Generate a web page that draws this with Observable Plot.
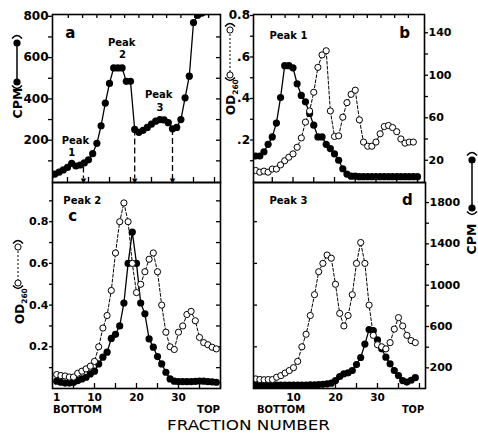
<!DOCTYPE html>
<html><head><meta charset="utf-8">
<script src="https://cdn.jsdelivr.net/npm/d3@7"></script>
<script src="https://cdn.jsdelivr.net/npm/@observablehq/plot@0.6"></script>
<style>
body{margin:0;background:#fff;}
#chart{position:relative;width:478px;height:434px;overflow:hidden;background:#fff;}
#chart svg{position:absolute;left:0;top:0;background:transparent;}
</style></head><body><div id="chart"></div>
<script>
const W = 478, H = 434;

// ---------- data ----------
const fracA = [1,2,3,4,5,6,7,8,9,10,11,12,13,14,15,16,17,18,19,20,21,22,23,24,25,26,27,28,29,30,31,32,33,34,35,36,37,38,39,40];
const cpmA  = [28,36,45,56,68,88,75,80,90,105,135,185,270,380,475,550,550,550,485,485,252,238,248,262,278,292,300,298,285,255,262,300,405,510,770,805,815,830,840,850];

const fracB = [1,2,3,4,5,6,7,8,9,10,11,12,13,14,15,16,17,18,19,20,21,22,23,24,25,26,27,28,29,30,31,32,33,34,35,36,37,38,39,40];
const odB   = [0.053,0.045,0.05,0.045,0.06,0.06,0.08,0.10,0.117,0.133,0.165,0.21,0.286,0.34,0.43,0.55,0.61,0.63,0.34,0.217,0.22,0.31,0.38,0.42,0.44,0.297,0.19,0.17,0.17,0.19,0.23,0.265,0.27,0.26,0.24,0.205,0.185,0.19,0.19];
const cpmB  = [24,24,28,35,42,55,79,109,109,107,92,81,75,64,53,42,42,35,31,26,20,12,7,5,5,4.5,4.5,4.5,4.5,4.5,4.5,4.5,4.5,4.5,4.5,4.5,4.5,4.5,4.5,4.5];

const fracC = [1,2,3,4,5,6,7,8,9,10,11,12,13,14,15,16,17,18,19,20,21,22,23,24,25,26,27,28,29,30,31,32,33,34,35,36,37,38,39];
const odC   = [0.067,0.062,0.06,0.055,0.055,0.073,0.083,0.094,0.107,0.13,0.20,0.29,0.35,0.47,0.65,0.80,0.89,0.80,0.60,0.46,0.50,0.56,0.62,0.65,0.56,0.40,0.27,0.20,0.187,0.27,0.30,0.355,0.37,0.325,0.245,0.22,0.21,0.198,0.19];
const cpmC  = [0.035,0.03,0.026,0.026,0.029,0.038,0.046,0.054,0.07,0.083,0.118,0.15,0.174,0.24,0.26,0.30,0.41,0.60,0.75,0.60,0.41,0.358,0.238,0.198,0.153,0.118,0.078,0.046,0.035,0.033,0.033,0.033,0.033,0.034,0.036,0.035,0.033,0.032,0.03];

const fracD = [1,2,3,4,5,6,7,8,9,10,11,12,13,14,15,16,17,18,19,20,21,22,23,24,25,26,27,28,29,30,31,32,33,34,35,36,37,38,39];
const odD   = [0.046,0.043,0.042,0.043,0.043,0.054,0.062,0.074,0.086,0.10,0.13,0.20,0.26,0.35,0.45,0.56,0.60,0.64,0.625,0.50,0.36,0.30,0.35,0.45,0.60,0.70,0.60,0.40,0.255,0.21,0.20,0.19,0.22,0.285,0.34,0.30,0.255,0.23,0.22];
const cpmD  = [36,35,34,33,33,32,32,32,32,32,33,33,34,35,36,38,40,45,52,77,116,142,152,174,232,300,430,570,560,470,384,303,239,174,126,77,62,80,105];

// arrows marking peak boundaries (panel a)
const arrowFrac = [8.8, 21, 30];
const arrowTop  = [70, 250, 252];

// ticks and tick labels
const aLeftTicks = [100,200,300,400,500,600,700,800];
const aLeftLabels = [200,400,600,800];
const aRightTicks = [100,200,300,400,500,600,700];
const aTopTicks = [5.2,8.6,12,15.3,18.6,22,25.3,28.6,32,35.3,38.6];
const bTopTicks = [4.8,8.1,11.4,14.7,18,21.3,24.6,27.9,31.2,34.5,37.8];
const fracTicks = [5,10,15,20,25,30,35,40];
const bLeftTicks = [0.1,0.2,0.3,0.4,0.5,0.6,0.7,0.8];
const bLeftValues = [0.2,0.4,0.6,0.8];
const bLeftLabels = [".2",".4",".6","0.8"];
const bRightTicks = [20,40,60,80,100,120,140];
const bRightLabels = [20,60,100,140];
const cLeftTicks = [0.1,0.2,0.3,0.4,0.5,0.6,0.7,0.8,0.9];
const cLeftLabels = [0.2,0.4,0.6,0.8];
const dLeftTicks = [0.2,0.4,0.6,0.8];
const dRightTicks = [200,400,600,800,1000,1200,1400,1600,1800];
const dRightLabels = [200,600,1000,1400,1800];
const cBottomLabels = [1,10,20,30];
const dBottomLabels = [10,20,30];

// annotations (in data units of each panel)
const annA = [{f:5.7,v:717,t:"a",s:15},{f:17.9,v:673,t:"Peak",s:10},{f:18.1,v:613,t:"2",s:10},
              {f:26.7,v:418,t:"Peak",s:10},{f:27.0,v:358,t:"3",s:10},{f:6.9,v:198,t:"Peak",s:10},{f:6.0,v:140,t:"1",s:10}];
const annB = [{f:8.9,v:0.704,t:"Peak 1",s:10},{f:36.9,v:0.713,t:"b",s:15}];
const annC = [{f:7.1,v:0.902,t:"Peak 2",s:10},{f:4.8,v:0.825,t:"c",s:15}];
const annD = [{f:8.8,v:0.899,t:"Peak 3",s:10},{f:37.1,v:0.902,t:"d",s:15}];

// ---------- helpers ----------
const chart = document.getElementById("chart");
const zip = (xs, ys) => xs.slice(0, ys.length).map((f, i) => ({f, v: ys[i]}));
function addPlot(cfg) {
  const [l, t, r, b] = cfg.frame;
  const svg = Plot.plot({
    width: W, height: H,
    marginLeft: l, marginTop: t, marginRight: W - r, marginBottom: H - b,
    x: {domain: cfg.x, axis: null, label: null},
    y: {domain: cfg.y, axis: null, label: null},
    style: {background: "transparent", fontFamily: "DejaVu Sans, sans-serif", fontWeight: "bold", fontSize: "11px", color: "black", overflow: "visible"},
    marks: cfg.marks
  });
  svg.style.position = "absolute"; svg.style.left = "0px"; svg.style.top = "0px";
  svg.style.background = "transparent"; svg.style.maxWidth = "none";
  chart.appendChild(svg);
  return svg;
}
const filledMarks = (data) => [
  Plot.line(data, {x: "f", y: "v", stroke: "black", strokeWidth: 1.3, clip: true}),
  Plot.dot(data, {x: "f", y: "v", r: 3.6, fill: "black", clip: true})
];
const openLine = (data) => Plot.line(data, {x: "f", y: "v", stroke: "black", strokeWidth: 1, strokeDasharray: "3,2", clip: true});
const openDots = (data) => Plot.dot(data, {x: "f", y: "v", r: 3.1, fill: "white", stroke: "black", strokeWidth: 1, clip: true});
const annText = (ann) => [10, 15].map(s => Plot.text(ann.filter(d => d.s === s), {x: "f", y: "v", text: "t", fontSize: s, fontWeight: "bold", fill: "black"}));
const SW = 1.3;

// ---------- panel a ----------
{
  const fw = 168, fh = 168;
  const data = zip(fracA, cpmA);
  const arrows = arrowFrac.map((f, i) => ({f, top: arrowTop[i]}));
  addPlot({
    frame: [52, 14, 220, 182], x: [1.43, 41.43], y: [-4.8, 808.7],
    marks: [
      Plot.axisY(aLeftTicks, {anchor: "left", label: null, tickSize: 4, tickPadding: 0, strokeWidth: SW, fontSize: 12,
        tickFormat: d => aLeftLabels.includes(d) ? String(d) : ""}),
      Plot.tickY(aRightTicks, {y: d => d, insetLeft: fw - 4, strokeWidth: SW}),
      Plot.tickX(aTopTicks, {x: d => d, insetBottom: fh - 4, strokeWidth: SW}),
      Plot.tickX(fracTicks, {x: d => d, insetTop: fh - 5, strokeWidth: SW}),
      Plot.ruleX(arrows, {x: "f", y1: "top", y2: 14, stroke: "black", strokeWidth: 1.3, strokeDasharray: "6,3"}),
      Plot.text(arrows, {x: "f", y: 0, text: () => "\u25BC", fontSize: 7, lineAnchor: "bottom", dy: 1, fill: "black"}),
      ...filledMarks(data),
      ...annText(annA),
      Plot.frame({stroke: "black", strokeWidth: 1.6})
    ]
  });
}

// ---------- panel b : CPM (filled, right axis) ----------
{
  const data = zip(fracB, cpmB);
  addPlot({
    frame: [253, 14, 424, 182], x: [0.48, 41.69], y: [-0.94, 157.2],
    marks: [
      Plot.axisY(bRightTicks, {anchor: "right", label: null, tickSize: 3, tickPadding: 1, strokeWidth: SW, fontSize: 11,
        tickFormat: d => bRightLabels.includes(d) ? String(d) : ""}),
      ...filledMarks(data)
    ]
  });
}
// ---------- panel b : OD (open, left axis) ----------
let bOD;
{
  const fw = 171, fh = 168;
  const data = zip(fracB, odB);
  bOD = addPlot({
    frame: [253, 14, 424, 182], x: [0.48, 41.69], y: [-0.0048, 0.8048],
    marks: [
      Plot.axisY(bLeftTicks, {anchor: "left", label: null, tickSize: 3, strokeWidth: SW, tickFormat: () => ""}),
      Plot.tickX(bTopTicks, {x: d => d, insetBottom: fh - 4, strokeWidth: SW}),
      Plot.tickX(fracTicks, {x: d => d, insetTop: fh - 5, strokeWidth: SW}),
      openLine(data), openDots(data),
      ...annText(annB),
      Plot.frame({stroke: "black", strokeWidth: 1.6})
    ]
  });
}

// ---------- panel c ----------
{
  const fw = 168, fh = 206;
  const open = zip(fracC, odC), filled = zip(fracC, cpmC);
  addPlot({
    frame: [52, 182, 220, 388], x: [0, 40], y: [0, 0.988],
    marks: [
      Plot.axisY(cLeftTicks, {anchor: "left", label: null, tickSize: 3, tickPadding: 1, strokeWidth: SW, fontSize: 11,
        tickFormat: d => cLeftLabels.includes(d) ? d.toFixed(1) : ""}),
      Plot.tickY(cLeftTicks, {y: d => d, insetLeft: fw - 4, strokeWidth: SW}),
      Plot.tickX(fracTicks, {x: d => d, insetTop: fh - 5, strokeWidth: SW}),
      Plot.axisX(cBottomLabels, {anchor: "bottom", label: null, tickSize: 0, tickPadding: 5, fontSize: 10.5}),
      openLine(open),
      ...filledMarks(filled),
      openDots(open),
      ...annText(annC),
      Plot.frame({stroke: "black", strokeWidth: 1.6})
    ]
  });
}

// ---------- panel d : CPM (filled, right axis) ----------
{
  const data = zip(fracD, cpmD);
  addPlot({
    frame: [253, 182, 425, 388], x: [0.48, 41.43], y: [0, 1994],
    marks: [
      Plot.axisY(dRightTicks, {anchor: "right", label: null, tickSize: 3, tickPadding: 1, strokeWidth: SW, fontSize: 11,
        tickFormat: d => dRightLabels.includes(d) ? String(d) : ""}),
      ...filledMarks(data)
    ]
  });
}
// ---------- panel d : OD (open) ----------
{
  const fw = 172, fh = 206;
  const data = zip(fracD, odD);
  addPlot({
    frame: [253, 182, 425, 388], x: [0.48, 41.43], y: [0, 0.988],
    marks: [
      Plot.tickY(dLeftTicks, {y: d => d, insetRight: fw - 4, strokeWidth: SW}),
      Plot.tickX(fracTicks, {x: d => d, insetTop: fh - 5, strokeWidth: SW}),
      Plot.axisX(dBottomLabels, {anchor: "bottom", label: null, tickSize: 0, tickPadding: 5, fontSize: 10.5}),
      openLine(data), openDots(data),
      ...annText(annD),
      Plot.frame({stroke: "black", strokeWidth: 1.6})
    ]
  });
}

// ---------- outer labels & legend glyphs ----------
const ov = d3.select(chart).append("svg").attr("width", W).attr("height", H)
  .style("position", "absolute").style("left", "0px").style("top", "0px")
  .attr("font-family", "DejaVu Sans, sans-serif").attr("font-weight", "bold").attr("fill", "black");

function arcTop(x, y) { ov.append("path").attr("d", `M${x-5},${y+2.5}Q${x},${y-3.5} ${x+5},${y+2.5}`).attr("fill", "none").attr("stroke", "black").attr("stroke-width", 1.4); }
function arcBot(x, y) { ov.append("path").attr("d", `M${x-5},${y-2.5}Q${x},${y+3.5} ${x+5},${y-2.5}`).attr("fill", "none").attr("stroke", "black").attr("stroke-width", 1.4); }
function filledGlyph(x, y1, y2) {
  ov.append("line").attr("x1", x).attr("x2", x).attr("y1", y1).attr("y2", y2).attr("stroke", "black").attr("stroke-width", 1.5);
  [y1, y2].forEach(y => ov.append("circle").attr("cx", x).attr("cy", y).attr("r", 3.6).attr("fill", "black"));
  arcTop(x, y1 - 7); arcBot(x, y2 + 6);
}
function openGlyph(x, y1, y2) {
  ov.append("line").attr("x1", x).attr("x2", x).attr("y1", y1).attr("y2", y2).attr("stroke", "black").attr("stroke-width", 1).attr("stroke-dasharray", "2,2");
  [y1, y2].forEach(y => ov.append("circle").attr("cx", x).attr("cy", y).attr("r", 3.1).attr("fill", "white").attr("stroke", "black").attr("stroke-width", 1));
  arcTop(x, y1 - 6); arcBot(x, y2 + 5);
}
function vText(x, y, str, size, anchor) {
  return ov.append("text").attr("transform", `translate(${x},${y}) rotate(-90)`).attr("text-anchor", anchor || "middle")
    .attr("font-size", size).text(str);
}
function odLabel(x, yBottom) {
  const t = ov.append("text").attr("transform", `translate(${x},${yBottom}) rotate(-90)`).attr("text-anchor", "start").attr("font-size", 12);
  t.append("tspan").text("OD");
  t.append("tspan").attr("font-size", 7.5).attr("dy", 2.5).text("260");
}

// left CPM (panel a)
vText(22, 103, "CPM", 12.5);
filledGlyph(17, 43, 82);
// OD260 for panel b
odLabel(235, 115);
openGlyph(230, 30, 75);
// OD260 for panel c
odLabel(24, 324);
openGlyph(18, 247, 283);
// right CPM
vText(476, 239, "CPM", 12.5);
filledGlyph(472, 160, 208);

// panel b left tick labels, positioned through panel b's OD y scale (drawn last, on top)
{
  const ys = bOD.scale("y");
  const g = ov.append("g").attr("font-size", 12).attr("text-anchor", "end");
  bLeftValues.forEach((v, i) => {
    g.append("text").attr("x", 250).attr("y", ys.apply(v) + 4.2).attr("fill", "black").text(bLeftLabels[i]);
  });
}

// bottom labels
const bt = (x, y, s, len, size, w) => ov.append("text").attr("x", x).attr("y", y).attr("font-size", size)
  .attr("font-weight", w || "bold").attr("textLength", len).attr("lengthAdjust", "spacingAndGlyphs").text(s);
bt(53, 413, "BOTTOM", 49, 10);
bt(197, 413, "TOP", 23, 10);
bt(257, 413, "BOTTOM", 48, 10);
bt(402, 413, "TOP", 22, 10);
bt(167, 430, "FRACTION NUMBER", 163, 14.5, "normal");
</script></body></html>
